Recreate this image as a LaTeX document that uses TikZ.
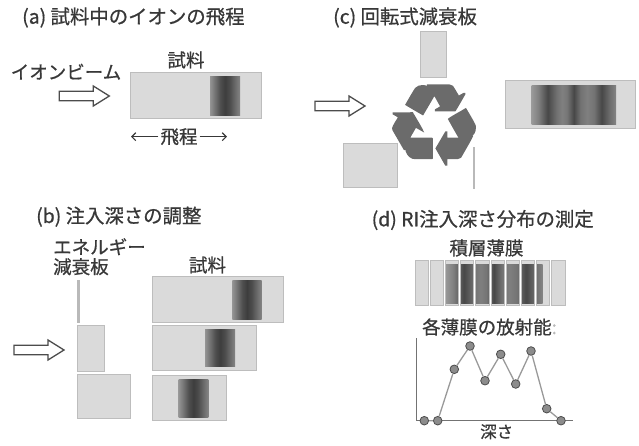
\documentclass[tikz,border=0pt]{standalone}
\usepackage{fontspec}
\newfontfamily\jp[FakeBold=0.7]{Noto Sans CJK JP}
\newfontfamily\dejavu[FakeBold=2]{DejaVu Sans}
\usetikzlibrary{arrows.meta}

\definecolor{plate}{gray}{0.855}
\definecolor{plateline}{gray}{0.74}
\definecolor{ink}{gray}{0.22}
\definecolor{symbolgray}{gray}{0.42}
\definecolor{axisgray}{gray}{0.45}
\definecolor{curvegray}{gray}{0.6}
\definecolor{dotfill}{gray}{0.55}
\definecolor{dotline}{gray}{0.3}

% implanted-ion depth profile: one peak
\pgfdeclarehorizontalshading{onepeak}{100bp}{%
  rgb(0bp)=(.58,.58,.58); rgb(25bp)=(.58,.58,.58);
  rgb(32bp)=(.47,.47,.47); rgb(42bp)=(.31,.31,.31);
  rgb(50bp)=(.24,.24,.24); rgb(58bp)=(.30,.30,.30);
  rgb(67bp)=(.42,.42,.42); rgb(75bp)=(.52,.52,.52);
  rgb(100bp)=(.52,.52,.52)}
% profile after the rotating degrader: three peaks
\pgfdeclarehorizontalshading{threepeak}{100bp}{%
  rgb(0bp)=(.6,.6,.6); rgb(25bp)=(.6,.6,.6);
  rgb(29bp)=(.5,.5,.5); rgb(34.5bp)=(.28,.28,.28);
  rgb(40bp)=(.45,.45,.45); rgb(43bp)=(.5,.5,.5);
  rgb(46bp)=(.46,.46,.46); rgb(50bp)=(.28,.28,.28);
  rgb(54bp)=(.45,.45,.45); rgb(58bp)=(.5,.5,.5);
  rgb(62bp)=(.45,.45,.45); rgb(66.5bp)=(.28,.28,.28);
  rgb(71bp)=(.42,.42,.42); rgb(75bp)=(.52,.52,.52);
  rgb(100bp)=(.52,.52,.52)}

\tikzset{
  title/.style={font=\jp\fontsize{19.4}{21}\selectfont, text=ink, inner sep=0pt, anchor=west},
  label/.style={font=\jp\fontsize{18.5}{20}\selectfont, text=ink, inner sep=0pt},
  plt/.style={fill=plate, draw=plateline, line width=0.9pt},
  thinplate/.style={fill=gray!55, draw=none},
  beamline/.style={draw=ink!90, fill=white, line width=1.3pt, line join=miter},
  beam/.pic={\path[beamline] (0,-4.8) -- (34,-4.8) -- (34,-10) -- (50,0)
        -- (34,10) -- (34,4.8) -- (0,4.8) -- cycle;},
  rangearrow/.style={draw=ink, line width=1.1pt, -{Straight Barb[length=4pt,width=8pt]}},
  dot/.style={circle, fill=dotfill, draw=dotline, line width=0.8pt,
        minimum size=8.6pt, inner sep=0pt},
}

\begin{document}
\begin{tikzpicture}[x=1pt, y=-1pt]
\useasboundingbox (0,0) rectangle (639,445);

% ---------- (a) range of ions in a sample ----------
\node[title] (ta) at (22,17.5) {(a) 試料中のイオンの飛程};
\node[label] (beamA) at (66,71.7) {イオンビーム};
\node[label] (sampleA) at (186,60) {試料};
\pic at (59.3,96) {beam};
\path[plt] (130,72.7) rectangle (261.7,118.3);
\path[shading=onepeak] (210,76) rectangle (240,115);
\node[label] (rangeA) at (179,136.7) {飛程};
\coordinate (rangeL) at (131,136.7);
\coordinate (rangeR) at (227,136.7);
\draw[rangearrow] (rangeA.west) ++(-2,0) -- (rangeL);
\draw[rangearrow] (rangeA.east) ++(2,0) -- (rangeR);

% ---------- (c) rotating degrader ----------
\node[title] (tc) at (333,17.5) {(c) 回転式減衰板};
\pic at (315,106) {beam};
\path[plt] (420,31.7) rectangle (446.7,77.3);
\path[plt] (343.3,143.3) rectangle (397.3,187.3);
\path[thinplate] (472.5,146.7) rectangle (475,189.3);
\node[text=symbolgray, font=\dejavu\fontsize{112}{112}\selectfont, inner sep=0pt]
  (wheel) at (434,125) {♻};
\path[plt] (505,80) rectangle (635,128.3);
\path[shading=threepeak] (531.7,85) rectangle (616,124);

% ---------- (b) adjusting implantation depth ----------
\node[title] (tb) at (36,216.7) {(b) 注入深さの調整};
\node[label, anchor=west] (degr1) at (53,246.7) {エネルギー};
\node[label, anchor=west] (degr2) at (53,266.7) {減衰板};
\node[label] (sampleB) at (207.5,265) {試料};
\pic at (14,350) {beam};
\path[thinplate] (77.3,280) rectangle (79.5,323);
\path[plt] (77.3,325) rectangle (104,371.7);
\path[plt] (77.3,374.3) rectangle (130.7,418.3);
\path[plt] (152.7,276.7) rectangle (283.3,322.7);
\path[shading=onepeak] (232.3,280.7) rectangle (261.7,319);
\path[plt] (152.7,325.7) rectangle (256,370);
\path[shading=onepeak] (205,329.5) rectangle (235,366.5);
\path[plt] (152.7,375) rectangle (226.7,420.7);
\path[shading=onepeak] (178.7,379) rectangle (208.3,417);

% ---------- (d) measuring the RI depth profile ----------
\node[title] (td) at (371.5,220) {(d) RI注入深さ分布の測定};
\node[label] (stack) at (486.5,248) {積層薄膜};
\foreach \i in {0,...,9}{
  \pgfmathsetmacro{\fx}{415+15.2*\i}
  \fill[plate] (\fx,260) rectangle ++(13.3,45);
  \begin{scope}
    \clip (\fx,260) rectangle ++(13.3,45);
    \path[shading=threepeak] (445.5,264) rectangle (542.5,303);
  \end{scope}
  \draw[plateline, line width=0.9pt] (\fx,260) rectangle ++(13.3,45);
}
\node[label, anchor=west] (activity) at (422,327) {各薄膜の放射能{\color{gray!55}:}};

% activity versus depth
\coordinate (ytop) at (416.7,338);
\coordinate (origin) at (416.7,420.5);
\coordinate (xend) at (573,420.5);
\draw[axisgray, line width=1.5pt] (ytop) -- (origin) -- (xend);
\node[dot] (p1) at (424.3,420.7) {};
\node[dot] (p2) at (437.7,420.7) {};
\node[dot] (p3) at (454.3,369.3) {};
\node[dot] (p4) at (470,346) {};
\node[dot] (p5) at (485,380.7) {};
\node[dot] (p6) at (500.7,354.3) {};
\node[dot] (p7) at (515.7,384) {};
\node[dot] (p8) at (531,351) {};
\node[dot] (p9) at (546.7,408.7) {};
\node[dot] (p10) at (561,420.7) {};
\draw[curvegray, line width=1.3pt] (p1) -- (p2) -- (p3) -- (p4) -- (p5) -- (p6)
  -- (p7) -- (p8) -- (p9) -- (p10);
\node[label, font=\jp\fontsize{16.5}{18}\selectfont] (depth) at (496.7,431.7) {深さ};
\end{tikzpicture}
\end{document}
